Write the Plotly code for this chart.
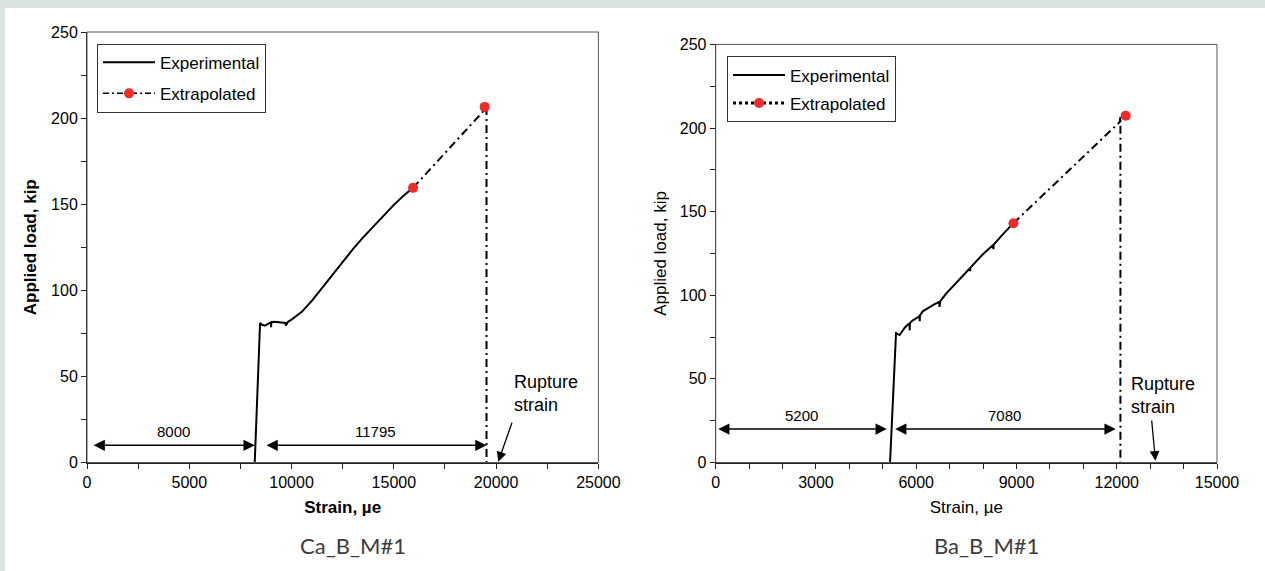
import plotly.graph_objects as go

W, H = 1265, 571

# ---------------- data: left panel (Ca_B_M#1) ----------------
ca_exp_strain = [8200, 8460, 8560, 8700, 8850, 8990, 9000, 9010, 9180, 9400, 9585, 9700, 9720, 9830,
                 10000, 10500, 11000, 11500, 12000, 12500, 13000, 13500, 14000, 14500, 15000,
                 15500, 15940]
ca_exp_load = [0, 81, 80, 79.5, 80.5, 81.4, 78.5, 81.5, 81.8, 81.6, 81.4, 81, 79.5, 81.8,
               83, 87.5, 94, 101.5, 109.3, 116.8, 123.9, 130.7, 137.2, 143.6, 149.6,
               155.2, 159.5]
ca_ext_strain = [15940, 19530, 19530]
ca_ext_load = [159.5, 206, 0]
ca_pts_strain = [15940, 19440]
ca_pts_load = [159.5, 206.5]
ca_dim_strain = [250, 8200, 8700, 19530]   # start/end of the two dimension arrows
ca_dim_labels = ["8000", "11795"]
ca_dim_load = 10
ca_rupture_tip = [20107, 0.5]
ca_rupture_tail = [20800, 24]

# ---------------- data: right panel (Ba_B_M#1) ----------------
ba_exp_strain = [5217, 5396, 5503, 5580, 5657, 5750, 5800, 5805, 5812, 5836, 5900, 6075, 6100, 6106,
                 6113, 6194, 6350, 6550, 6669, 6690, 6697, 6720, 6908, 7264, 7600, 7610, 7622,
                 7980, 8277, 8300, 8310, 8320, 8575, 8873, 8909]
ba_exp_load = [0, 77.3, 76.2, 78.5, 80.6, 82.5, 83.2, 79, 83.4, 83.9, 85, 87.1, 87.6, 84.5,
               88, 90.4, 92.5, 94.7, 95.8, 96, 93, 96.5, 101.3, 108.9, 116, 114.5, 116.5,
               124.2, 129.6, 130, 127.5, 130.3, 136.1, 142.6, 143.1]
ba_ext_strain = [8909, 12090, 12110, 12110]
ba_ext_load = [143.1, 203.6, 207, 0]
ba_pts_strain = [8909, 12267]
ba_pts_load = [143.1, 207.4]
ba_dim_strain = [30, 5120, 5324, 11969]
ba_dim_labels = ["5200", "7080"]
ba_dim_load = 20
ba_rupture_tip = [13158, 1]
ba_rupture_tail = [13042, 26]

panel_titles = ["Ca_B_M#1", "Ba_B_M#1"]

FONT = "Arial, Liberation Sans, sans-serif"
RED = "#ee2b2b"
DASHDOT = "8px,4px,2px,4px"

fig = go.Figure()

# ---- left traces
fig.add_trace(go.Scatter(x=ca_exp_strain, y=ca_exp_load, mode="lines", name="Experimental",
                         line=dict(color="black", width=2), legend="legend", legendgroup="a1",
                         xaxis="x", yaxis="y"))
fig.add_trace(go.Scatter(x=ca_ext_strain, y=ca_ext_load, mode="lines", showlegend=False,
                         line=dict(color="black", width=2, dash=DASHDOT), xaxis="x", yaxis="y"))
fig.add_trace(go.Scatter(x=ca_pts_strain, y=ca_pts_load, mode="markers", showlegend=False,
                         marker=dict(color=RED, size=10), xaxis="x", yaxis="y"))
fig.add_trace(go.Scatter(x=[None], y=[None], mode="lines+markers", name="Extrapolated",
                         line=dict(color="black", width=1.5, dash="6px,3px,2px,3px"),
                         marker=dict(color=RED, size=10), legend="legend", legendgroup="a2",
                         xaxis="x", yaxis="y"))

# ---- right traces
fig.add_trace(go.Scatter(x=ba_exp_strain, y=ba_exp_load, mode="lines", name="Experimental",
                         line=dict(color="black", width=2), legend="legend2", legendgroup="b1",
                         xaxis="x2", yaxis="y2"))
fig.add_trace(go.Scatter(x=ba_ext_strain, y=ba_ext_load, mode="lines", showlegend=False,
                         line=dict(color="black", width=2, dash=DASHDOT), xaxis="x2", yaxis="y2"))
fig.add_trace(go.Scatter(x=ba_pts_strain, y=ba_pts_load, mode="markers", showlegend=False,
                         marker=dict(color=RED, size=10), xaxis="x2", yaxis="y2"))
fig.add_trace(go.Scatter(x=[None], y=[None], mode="lines+markers", name="Extrapolated",
                         line=dict(color="black", width=3, dash="dot"),
                         marker=dict(color=RED, size=10), legend="legend2", legendgroup="b2",
                         xaxis="x2", yaxis="y2"))


def px_x(p):
    return p / W


def px_y(p):
    return 1 - p / H


axis_common = dict(showgrid=False, zeroline=False, showline=True, linecolor="#222", linewidth=1,
                   ticks="outside", ticklen=5, tickcolor="#222", tickformat="d", automargin=False,
                   tickfont=dict(family=FONT, size=16, color="black"))

fig.update_layout(
    width=W, height=H, autosize=False,
    margin=dict(l=0, r=0, t=0, b=0, autoexpand=False),
    paper_bgcolor="white", plot_bgcolor="white",
    xaxis=dict(domain=[px_x(87), px_x(598.4)], range=[0, 25000], anchor="y",
               tickvals=[0, 5000, 10000, 15000, 20000, 25000],
               minor=dict(dtick=2500, tick0=0, ticks="outside", ticklen=5, tickcolor="#222"),
               title=dict(text="<b>Strain, µe</b>", font=dict(family=FONT, size=17, color="black"),
                          standoff=11),
               **axis_common),
    yaxis=dict(domain=[px_y(462.5), px_y(32)], range=[0, 250], anchor="x",
               tickvals=[0, 50, 100, 150, 200, 250],
               minor=dict(dtick=25, tick0=0, ticks="outside", ticklen=5, tickcolor="#222"),
               title=dict(text="<b>Applied load, kip</b>", font=dict(family=FONT, size=17, color="black"),
                          standoff=10),
               **axis_common),
    xaxis2=dict(domain=[px_x(715.7), px_x(1217)], range=[0, 15000], anchor="y2",
                tickvals=[0, 3000, 6000, 9000, 12000, 15000],
                minor=dict(dtick=1000, tick0=0, ticks="outside", ticklen=5, tickcolor="#222"),
                title=dict(text="Strain, µe", font=dict(family=FONT, size=17, color="black"),
                           standoff=11),
                **axis_common),
    yaxis2=dict(domain=[px_y(462.5), px_y(44.4)], range=[0, 250], anchor="x2",
                tickvals=[0, 50, 100, 150, 200, 250],
                minor=dict(dtick=25, tick0=0, ticks="outside", ticklen=5, tickcolor="#222"),
                title=dict(text="Applied load, kip", font=dict(family=FONT, size=17, color="black"),
                           standoff=8),
                **axis_common),
    legend=dict(x=px_x(97), y=px_y(43.7), xanchor="left", yanchor="top",
                bgcolor="white", bordercolor="#333", borderwidth=1, itemwidth=52,
                font=dict(family=FONT, size=17, color="black"),
                tracegroupgap=6, traceorder="grouped"),
    legend2=dict(x=px_x(727), y=px_y(56.4), xanchor="left", yanchor="top",
                 bgcolor="white", bordercolor="#333", borderwidth=1, itemwidth=52,
                 font=dict(family=FONT, size=17, color="black"),
                 tracegroupgap=3, traceorder="grouped"),
    showlegend=True,
)

shapes = [
    dict(type="rect", xref="paper", yref="paper", x0=0, x1=1, y0=px_y(8), y1=1,
         fillcolor="#dbe3e2", line=dict(width=0), layer="below"),
    dict(type="rect", xref="paper", yref="paper", x0=0, x1=px_x(5), y0=0, y1=1,
         fillcolor="#dbe3e2", line=dict(width=0), layer="below"),
    dict(type="rect", xref="x domain", yref="y domain", x0=0, x1=1, y0=0, y1=1,
         line=dict(color="#555", width=1)),
    dict(type="rect", xref="x2 domain", yref="y2 domain", x0=0, x1=1, y0=0, y1=1,
         line=dict(color="#555", width=1)),
]
fig.update_layout(shapes=shapes)

annotations = []


def dim_arrows(xr, yr, s, labels, load):
    out = []
    for i in range(2):
        x0, x1 = s[2 * i], s[2 * i + 1]
        out.append(dict(xref=xr, yref=yr, axref=xr, ayref=yr, x=x1, y=load, ax=x0, ay=load,
                        text="", showarrow=True, arrowhead=2, arrowside="end+start",
                        arrowsize=1.5, arrowwidth=1.5, arrowcolor="black"))
        out.append(dict(xref=xr, yref=yr, x=(x0 + x1) / 2, y=load, yshift=14, text=labels[i],
                        showarrow=False, font=dict(family=FONT, size=15, color="black")))
    return out


annotations += dim_arrows("x", "y", ca_dim_strain, ca_dim_labels, ca_dim_load)
annotations += dim_arrows("x2", "y2", ba_dim_strain, ba_dim_labels, ba_dim_load)

for xr, yr, tip, tail in [("x", "y", ca_rupture_tip, ca_rupture_tail),
                          ("x2", "y2", ba_rupture_tip, ba_rupture_tail)]:
    annotations.append(dict(xref=xr, yref=yr, axref=xr, ayref=yr, x=tip[0], y=tip[1],
                            ax=tail[0], ay=tail[1], text="", showarrow=True, arrowhead=2,
                            arrowsize=1.5, arrowwidth=1.3, arrowcolor="black"))

annotations.append(dict(xref="x", yref="y", x=20780, y=40, xanchor="left", yanchor="middle",
                        text="Rupture<br>strain", align="left", showarrow=False,
                        font=dict(family=FONT, size=18, color="black")))
annotations.append(dict(xref="x2", yref="y2", x=12380, y=40, xanchor="left", yanchor="middle",
                        text="Rupture<br>strain", align="left", showarrow=False,
                        font=dict(family=FONT, size=18, color="black")))

for cx, label in [(353, panel_titles[0]), (986, panel_titles[1])]:
    annotations.append(dict(xref="paper", yref="paper", x=px_x(cx), y=px_y(545),
                            xanchor="center", yanchor="middle", text=label, showarrow=False,
                            font=dict(family="Lato, Open Sans, sans-serif", size=22,
                                      color="#3c3c3c")))
fig.update_layout(annotations=annotations)

ps = "document.body.style.margin='0';document.documentElement.style.overflow='hidden';"
fig.write_html("out.html", post_script=ps, config={"displayModeBar": False})
